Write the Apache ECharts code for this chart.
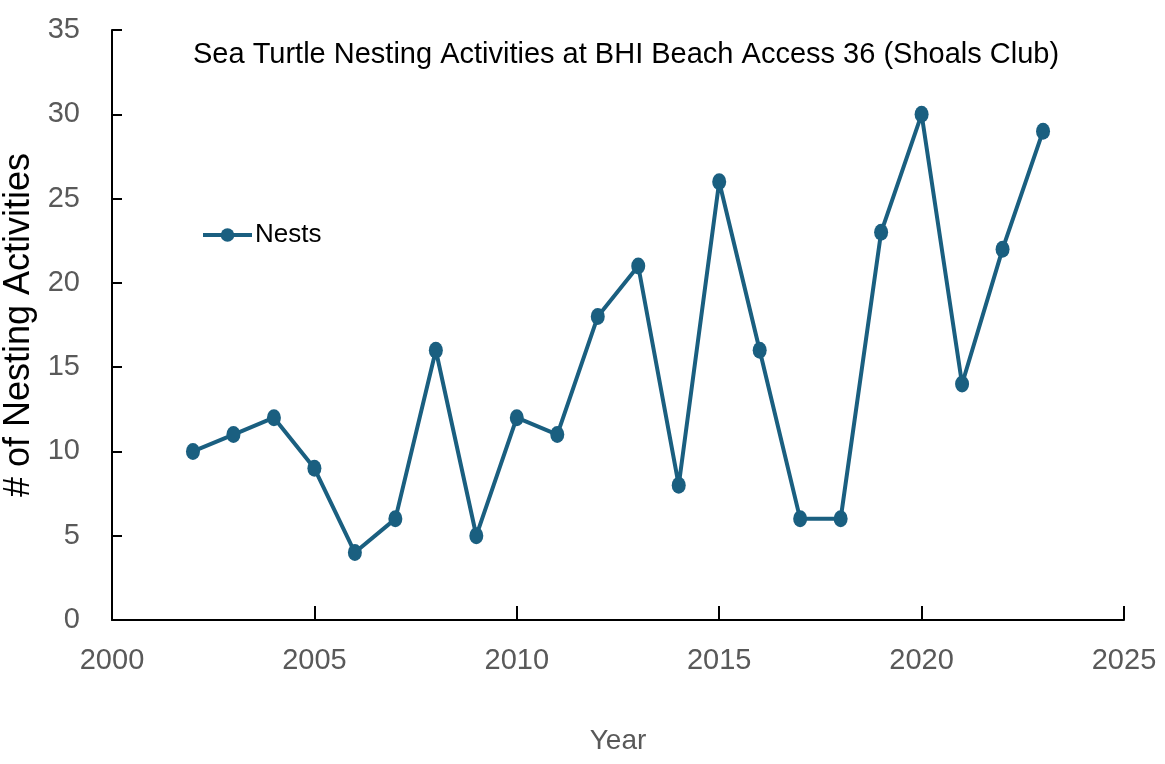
<!DOCTYPE html>
<html>
<head>
<meta charset="utf-8">
<script src="https://cdn.jsdelivr.net/npm/echarts@6/dist/echarts.min.js"></script>
<style>
html,body{margin:0;padding:0;background:#fff;}
#chart{width:1165px;height:764px;}
</style>
</head>
<body>
<div id="chart"></div>
<script>
const years = [2002,2003,2004,2005,2006,2007,2008,2009,2010,2011,2012,2013,2014,2015,2016,2017,2018,2019,2020,2021,2022,2023];
const nests = [10,11,12,9,4,6,16,5,12,11,18,21,8,26,16,6,6,23,30,14,22,29];
const seriesName = 'Nests';
const titleText = 'Sea Turtle Nesting Activities at BHI Beach Access 36 (Shoals Club)';
const xAxisName = 'Year';
const yAxisName = '# of Nesting Activities';

const font = '"Liberation Sans", Arial, sans-serif';
const lineColor = '#1a5f80';

const chart = echarts.init(document.getElementById('chart'));
chart.setOption({
  backgroundColor: '#ffffff',
  animation: false,
  title: {
    text: titleText,
    left: 188,
    top: 35,
    textStyle: {fontFamily: font, fontSize: 29, fontWeight: 'normal', color: '#000'}
  },
  legend: {
    left: 201,
    top: 222,
    padding: 0,
    itemWidth: 49,
    itemHeight: 17,
    textStyle: {fontFamily: font, fontSize: 26, color: '#000', padding: [0,0,0,-2]},
    lineStyle: {width: 4},
    data: [seriesName]
  },
  grid: {left: 112, right: 41, top: 30, bottom: 144, outerBoundsMode: 'none', containLabel: false},
  xAxis: {
    type: 'value',
    min: 2000, max: 2025, interval: 5,
    name: xAxisName,
    nameLocation: 'middle',
    nameGap: 107,
    nameTextStyle: {fontFamily: font, fontSize: 28, color: '#595959'},
    axisLine: {show: true, lineStyle: {color: '#000', width: 2}},
    axisTick: {show: true, inside: true, length: 14, lineStyle: {color: '#000', width: 2}},
    axisLabel: {fontFamily: font, fontSize: 29, color: '#595959', margin: 26, formatter: v => String(v)},
    splitLine: {show: false}
  },
  yAxis: {
    type: 'value',
    min: 0, max: 35, interval: 5,
    name: yAxisName,
    nameLocation: 'middle',
    nameGap: 58,
    nameTextStyle: {fontFamily: font, fontSize: 36, color: '#000'},
    axisLine: {show: true, lineStyle: {color: '#000', width: 2}},
    axisTick: {show: true, inside: true, length: 10, lineStyle: {color: '#000', width: 2}},
    axisLabel: {fontFamily: font, fontSize: 29, color: '#595959', margin: 32},
    splitLine: {show: false}
  },
  series: [{
    name: seriesName,
    type: 'line',
    data: years.map((y, i) => [y, nests[i]]),
    symbol: 'circle',
    symbolSize: [14, 17],
    lineStyle: {color: lineColor, width: 4},
    itemStyle: {color: lineColor}
  }]
});
</script>
</body>
</html>
